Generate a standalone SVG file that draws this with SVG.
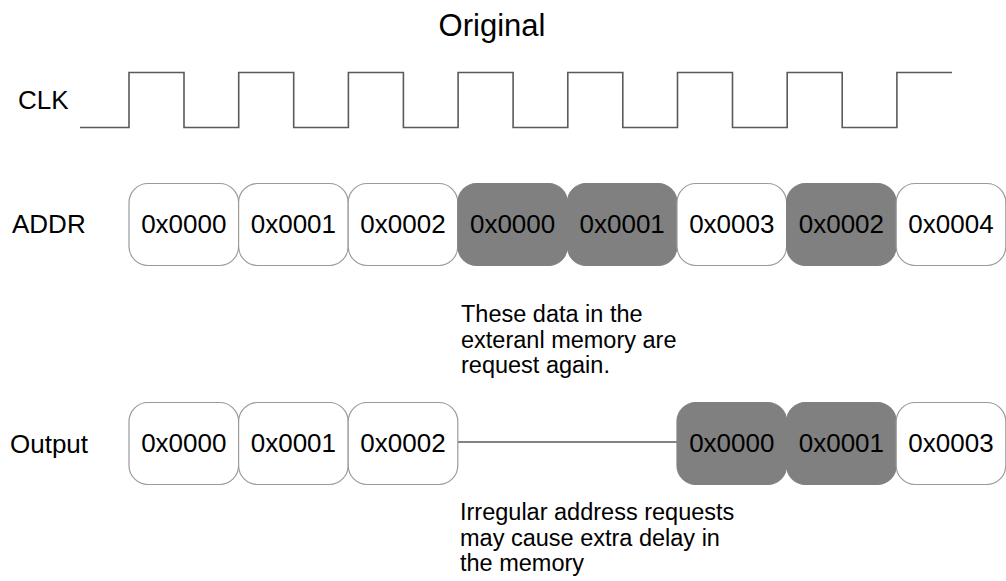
<svg xmlns="http://www.w3.org/2000/svg" width="1006" height="581" viewBox="0 0 1006 581">
  <style>
    text { font-family: "Liberation Sans", Arial, sans-serif; fill: #000; }
    .title { font-size: 31px; text-anchor: middle; }
    .label { font-size: 26px; }
    .val { font-size: 26px; text-anchor: middle; }
    .note { font-size: 23.5px; }
    .box { fill: #fff; stroke: #9a9a9a; stroke-width: 1.2; }
    .hit { fill: #808080; stroke: #808080; stroke-width: 1.2; }
    .wave { fill: none; stroke: #5a5a5a; stroke-width: 1.6; }
    .wire { fill: none; stroke: #5a5a5a; stroke-width: 1.4; }
  </style>
  <defs>
    <rect id="cell" width="109.6" height="82" rx="19" ry="19"/>
  </defs>
  <rect width="1006" height="581" fill="#fff"/>

  <text class="title" x="492" y="36">Original</text>

  <!-- clock waveform -->
  <g id="clk">
    <text class="label" x="18" y="109">CLK</text>
    <path class="wave" d="M80,127.5 H129 V72.5 H184 V127.5 H238.7 V72.5 H293.7 V127.5 H348.4 V72.5 H403.4 V127.5 H458.1 V72.5 H513.1 V127.5 H567.8 V72.5 H622.8 V127.5 H677.5 V72.5 H732.5 V127.5 H787.2 V72.5 H842.2 V127.5 H896.9 V72.5 H952"/>
  </g>

  <!-- address sequence -->
  <g id="addr">
    <text class="label" x="12" y="233">ADDR</text>
    <g id="addr-0"><use href="#cell" class="box" x="129" y="183.5"/><text class="val" x="183.8" y="233.3">0x0000</text></g>
    <g id="addr-1"><use href="#cell" class="box" x="238.6" y="183.5"/><text class="val" x="293.4" y="233.3">0x0001</text></g>
    <g id="addr-2"><use href="#cell" class="box" x="348.2" y="183.5"/><text class="val" x="403" y="233.3">0x0002</text></g>
    <g id="addr-3"><use href="#cell" class="hit" x="457.8" y="183.5"/><text class="val" x="512.6" y="233.3">0x0000</text></g>
    <g id="addr-4"><use href="#cell" class="hit" x="567.4" y="183.5"/><text class="val" x="622.2" y="233.3">0x0001</text></g>
    <g id="addr-5"><use href="#cell" class="box" x="677" y="183.5"/><text class="val" x="731.8" y="233.3">0x0003</text></g>
    <g id="addr-6"><use href="#cell" class="hit" x="786.6" y="183.5"/><text class="val" x="841.4" y="233.3">0x0002</text></g>
    <g id="addr-7"><use href="#cell" class="box" x="896.2" y="183.5"/><text class="val" x="951" y="233.3">0x0004</text></g>
  </g>

  <g id="note-again">
    <text class="note" x="461" y="322">These data in the</text>
    <text class="note" x="461" y="347.5">exteranl memory are</text>
    <text class="note" x="461" y="373">request again.</text>
  </g>

  <!-- idle gap on the output bus -->
  <g id="connectors">
    <line class="wire" x1="457.8" y1="442" x2="677" y2="442"/>
  </g>

  <!-- output sequence -->
  <g id="output">
    <text class="label" x="10" y="453">Output</text>
    <g id="out-0"><use href="#cell" class="box" x="129" y="402.5"/><text class="val" x="183.8" y="452.3">0x0000</text></g>
    <g id="out-1"><use href="#cell" class="box" x="238.6" y="402.5"/><text class="val" x="293.4" y="452.3">0x0001</text></g>
    <g id="out-2"><use href="#cell" class="box" x="348.2" y="402.5"/><text class="val" x="403" y="452.3">0x0002</text></g>
    <g id="out-3"><use href="#cell" class="hit" x="677" y="402.5"/><text class="val" x="731.8" y="452.3">0x0000</text></g>
    <g id="out-4"><use href="#cell" class="hit" x="786.6" y="402.5"/><text class="val" x="841.4" y="452.3">0x0001</text></g>
    <g id="out-5"><use href="#cell" class="box" x="896.2" y="402.5"/><text class="val" x="951" y="452.3">0x0003</text></g>
  </g>

  <g id="note-delay">
    <text class="note" x="460" y="520">Irregular address requests</text>
    <text class="note" x="460" y="545.5">may cause extra delay in</text>
    <text class="note" x="460" y="571">the memory</text>
  </g>
</svg>
